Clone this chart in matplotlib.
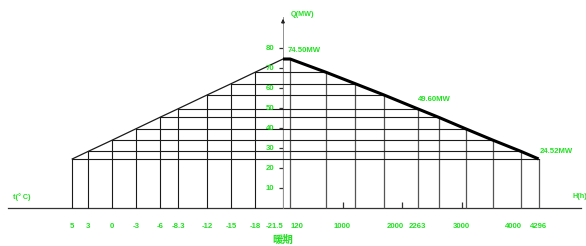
import matplotlib
matplotlib.use("Agg")
import matplotlib.pyplot as plt

# Heating load vs outdoor temperature (left) and load duration (right)
temps = [5, 3, 0, -3, -6, -8.3, -12, -15, -18, -21.5]
temp_labels = ["5", "3", "0", "-3", "-6", "-8.3", "-12", "-15", "-18", "-21.5"]
loads = [24.52, 28.3, 33.9, 39.6, 45.3, 49.6, 56.6, 62.2, 67.9, 74.5]
hours = [4296, 4000, 3530, 3070, 2620, 2263, 1690, 1210, 720, 120]
hour_ticks = [1000, 2000, 3000]
hour_labels = [120, 1000, 2000, 2263, 3000, 4000, 4296]
q_ticks = [10, 20, 30, 40, 50, 60, 70, 80]

GREEN = "#22e022"
LINE = "#1a1a1a"
GREY = "#8a8a8a"
FONT = ["Liberation Sans", "DejaVu Sans"]

W, H = 586, 246
fig = plt.figure(figsize=(W / 100, H / 100), dpi=100)

# pixel layout: Q axis at x=283, baseline at y=208, 10 MW = 20 px
ax_l = fig.add_axes([0, 0, 283 / W, 1])
ax_r = fig.add_axes([283 / W, 0, 1 - 283 / W, 1])
ax_l.set_xlim(112 / 7.95, -21.5)
ax_r.set_xlim(0, (W - 283) / 0.0595)
for ax in (ax_l, ax_r):
    ax.set_ylim(-(H - 208) / 2, 208 / 2)
    ax.axis("off")
    ax.patch.set_alpha(0)


def label(ax, x, y, s, dx=0, dy=0, ha="center", size=5.6):
    ax.annotate(s, (x, y), xytext=(dx, dy), textcoords="offset pixels",
                ha=ha, va="center", color=GREEN, fontsize=size,
                fontweight="bold", family=FONT, annotation_clip=False)


# baseline
ax_l.axhline(0, xmin=0.028, xmax=1, color="#333333", lw=0.9)
ax_r.axhline(0, xmin=0, xmax=0.985, color="#333333", lw=0.9)
ax_l.plot([0.03, 0.05], [0, 0], transform=ax_l.get_xaxis_transform(),
          color="#222222", lw=2)
ax_r.plot([0.965, 0.985], [0, 0], transform=ax_r.get_xaxis_transform(),
          color="#222222", lw=2)

# Q axis with arrow
ax_r.plot([0, 0], [0, 95], color=GREY, lw=1.3)
ax_r.annotate("", xy=(0, 96), xytext=(0, 91),
              arrowprops=dict(arrowstyle="-|>", color="#222222", lw=0.8,
                              mutation_scale=5))

# grid: verticals and horizontals
ax_l.vlines(temps, 0, loads, color=LINE, lw=0.8)
ax_r.vlines(hours, 0, loads, color="#555555", lw=0.9)
for t, q, h in zip(temps, loads, hours):
    ax_l.plot([t, -21.5], [q, q], color=LINE, lw=0.8)
    ax_r.plot([0, h], [q, q], color=LINE, lw=0.8)

# left: load vs temperature
ax_l.plot(temps, loads, color=LINE, lw=0.9)

# right: duration curve
ax_r.plot([0] + hours[::-1], [loads[-1]] + loads[::-1], color="black", lw=2.2,
          solid_capstyle="butt")

# hour tick marks
ax_r.vlines(hour_ticks, 0, 3, color="#333333", lw=0.9)

# Q tick marks and labels
ax_l.hlines(q_ticks, -21.0, -21.5, color="#333333", lw=0.9)
for q in q_ticks:
    label(ax_l, -20.4, q, str(q), ha="right", dy=-1)

# temperature labels
for t, s in zip(temps, temp_labels):
    dx = -8 if s == "-21.5" else 0
    label(ax_l, t, -9, s, dx=dx)

# hour labels
shift = {120: 7, 2000: -7, 4000: -8}
for h in hour_labels:
    label(ax_r, h, -9, str(h), dx=shift.get(h, 0))

# value annotations
label(ax_r, hours[-1], loads[-1], "%.2fMW" % loads[-1], dx=-2, dy=8, ha="left")
label(ax_r, hours[5], loads[5], "%.2fMW" % loads[5], dx=0, dy=9, ha="left")
label(ax_r, hours[0], loads[0], "%.2fMW" % loads[0], dx=1, dy=7, ha="left")

# axis titles
label(ax_r, 0, 0, "Q(MW)", dx=8, dy=193, ha="left", size=5.2)
label(ax_l, 12.4, 5.5, "t(° C)", ha="left", size=5.2)
label(ax_r, 4860, 5.5, "H(h)", ha="left", size=5.2)
ax_r.annotate("暖期", (0, -16), ha="center", va="center", color=GREEN,
              fontsize=7.5, fontweight="bold",
              family=["Noto Sans CJK SC", "DejaVu Sans"], annotation_clip=False)

fig.savefig("out.png", dpi=100, facecolor="white")
